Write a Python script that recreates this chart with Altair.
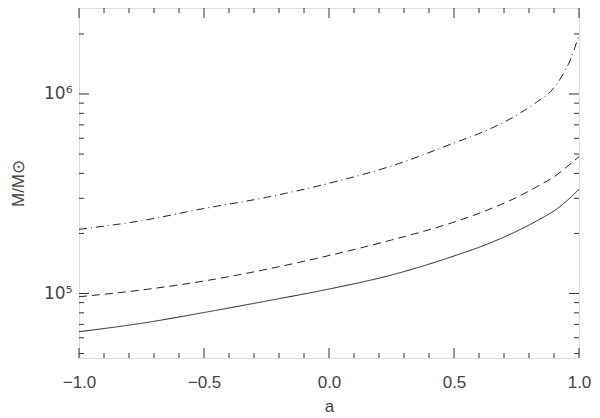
import altair as alt
import pandas as pd

# ---- data ----
x_solid = [-1.0, -0.75, -0.5, -0.25, 0.0, 0.25, 0.5, 0.634, 0.75, 0.833, 0.912, 0.952, 1.0]
m_solid = [64350, 70900, 80300, 91700, 105300, 123800, 154200, 177000, 205000, 232000, 266000, 292000, 333000]

x_dash = [-1.0, -0.75, -0.5, -0.25, 0.0, 0.25, 0.5, 0.634, 0.75, 0.833, 0.912, 0.952, 1.0]
m_dash = [96300, 104100, 115500, 132200, 155000, 185400, 228000, 262000, 303000, 344000, 394000, 432000, 485000]

x_dashdot = [-1.0, -0.75, -0.5, -0.25, 0.0, 0.25, 0.5, 0.634, 0.752, 0.833, 0.886, 0.939, 0.965, 1.0]
m_dashdot = [209800, 231700, 266700, 303500, 356800, 435700, 568000, 660000, 785000, 915000, 1027000, 1274000, 1480000, 1976000]

x_major = [-1.0, -0.5, 0.0, 0.5, 1.0]
x_minor = [-0.9, -0.8, -0.7, -0.6, -0.4, -0.3, -0.2, -0.1, 0.1, 0.2, 0.3, 0.4, 0.6, 0.7, 0.8, 0.9]
y_major = [1e5, 1e6]
y_minor = [5e4, 6e4, 7e4, 8e4, 9e4, 2e5, 3e5, 4e5, 5e5, 6e5, 7e5, 8e5, 9e5, 2e6]

W, H = 500, 350
X_DOMAIN = [-1.0, 1.0]
Y_DOMAIN = [47500, 2698000]

rows = []
for name, xs, ms in [("solid", x_solid, m_solid), ("dash", x_dash, m_dash), ("dashdot", x_dashdot, m_dashdot)]:
    for a, m in zip(xs, ms):
        rows.append({"a": a, "M": m, "series": name})
df = pd.DataFrame(rows)

FONT = "Liberation Sans"
GRAY = "#333333"
TXT = "#444444"

xscale = alt.Scale(domain=X_DOMAIN, nice=False, zero=False)
yscale = alt.Scale(type="log", domain=Y_DOMAIN, nice=False)

lines = alt.Chart(df).mark_line(strokeWidth=1, color="#222222", interpolate="monotone", clip=True).encode(
    x=alt.X("a:Q", scale=xscale, title="a",
            axis=alt.Axis(values=x_major, format=".1f", ticks=False, grid=False, domain=False,
                          labelFontSize=17, labelPadding=16, labelColor=TXT, labelFont=FONT,
                          titleFontSize=17, titleFont=FONT, titleColor=TXT, titleFontWeight="normal",
                          titlePadding=8, labelFlush=False)),
    y=alt.Y("M:Q", scale=yscale, title="M/M⊙",
            axis=alt.Axis(values=y_major, labelExpr="datum.value < 5e5 ? '10⁵' : '10⁶'",
                          ticks=False, grid=False, domain=False,
                          labelFontSize=17, labelPadding=7, labelColor=TXT, labelFont="DejaVu Sans",
                          titleFontSize=17, titleFont=FONT, titleColor=TXT, titleFontWeight="normal",
                          titlePadding=16)),
    strokeDash=alt.StrokeDash("series:N", scale=alt.Scale(domain=["solid", "dash", "dashdot"],
                                                          range=[[1, 0], [8, 5], [8, 4, 1, 4]]),
                              legend=None),
    detail="series:N",
)

def xticks(vals, length):
    d = pd.DataFrame({"a": vals})
    bottom = alt.Chart(d).mark_rule(color=GRAY, strokeWidth=1).encode(
        x=alt.X("a:Q", scale=xscale, axis=None), y=alt.value(H), y2=alt.value(H - length))
    top = alt.Chart(d).mark_rule(color=GRAY, strokeWidth=1).encode(
        x=alt.X("a:Q", scale=xscale, axis=None), y=alt.value(0), y2=alt.value(length))
    return [bottom, top]

def yticks(vals, length):
    d = pd.DataFrame({"M": vals})
    left = alt.Chart(d).mark_rule(color=GRAY, strokeWidth=1).encode(
        y=alt.Y("M:Q", scale=yscale, axis=None), x=alt.value(0), x2=alt.value(length))
    right = alt.Chart(d).mark_rule(color=GRAY, strokeWidth=1).encode(
        y=alt.Y("M:Q", scale=yscale, axis=None), x=alt.value(W), x2=alt.value(W - length))
    return [left, right]

layers = [lines] + xticks(x_major, 10) + xticks(x_minor, 5) + yticks(y_major, 10) + yticks(y_minor, 5)

chart = alt.layer(*layers).resolve_axis(x="independent", y="independent").properties(
    width=W, height=H,
    autosize=alt.AutoSizeParams(type="none"),
    padding={"left": 71, "top": 0, "right": 13, "bottom": 60},
).configure_view(stroke=GRAY, strokeWidth=1).configure(background="white")

chart.save("out.html", embed_options={"renderer": "svg", "actions": False})
